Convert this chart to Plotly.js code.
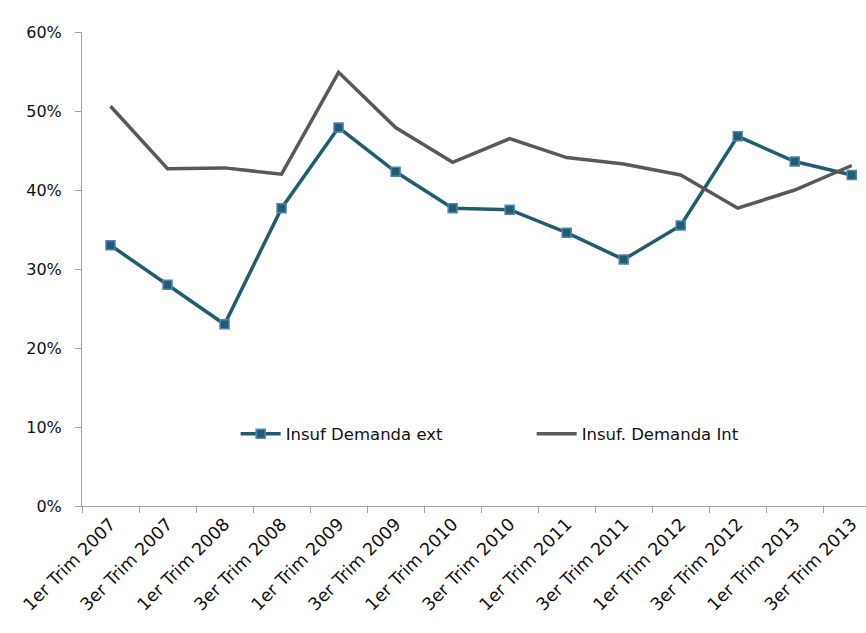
<!DOCTYPE html>
<html><head><meta charset="utf-8">
<script src="https://cdn.plot.ly/plotly-3.0.1.min.js"></script>
<style>html,body{margin:0;padding:0;background:#fff}#c{width:866px;height:633px}</style>
</head><body><div id="c"></div>
<script>
const categories = ["1er Trim 2007","3er Trim 2007","1er Trim 2008","3er Trim 2008","1er Trim 2009","3er Trim 2009","1er Trim 2010","3er Trim 2010","1er Trim 2011","3er Trim 2011","1er Trim 2012","3er Trim 2012","1er Trim 2013","3er Trim 2013"];
const demandaExt = [0.330,0.280,0.230,0.377,0.479,0.423,0.377,0.375,0.346,0.312,0.355,0.468,0.436,0.419];
const demandaInt = [0.506,0.427,0.428,0.420,0.549,0.479,0.435,0.465,0.441,0.433,0.419,0.377,0.400,0.431];
const yTicks = [0,0.1,0.2,0.3,0.4,0.5,0.6];
const yTickLabels = ["0%","10%","20%","30%","40%","50%","60%"];

const font = "DejaVu Sans, sans-serif";
const traces = [
 {x: categories, y: demandaExt, name: "Insuf Demanda ext", type: "scatter", mode: "lines+markers",
  line: {color: "#215e6b", width: 3.5},
  marker: {symbol: "square", size: 9, color: "#215e6b", line: {color: "#4f81bd", width: 1.5}},
  cliponaxis: false},
 {x: categories, y: demandaInt, name: "Insuf. Demanda Int", type: "scatter", mode: "lines",
  line: {color: "#595959", width: 3.5}, cliponaxis: false}
];
const layout = {
 width: 866, height: 633,
 margin: {l: 82, r: 0, t: 32, b: 127},
 paper_bgcolor: "#fff", plot_bgcolor: "#fff",
 font: {family: font, size: 16, color: "#222"},
 showlegend: true,
 legend: {orientation: "h", x: 0.196, y: 0.152, xanchor: "left", yanchor: "middle",
   font: {size: 16.5, color: "#111"}, bgcolor: "rgba(0,0,0,0)", itemwidth: 40, entrywidth: 241},
 xaxis: {type: "category", range: [-0.5, 13.25], tickangle: -45, ticks: "outside", ticklen: 6,
   tickson: "boundaries", tickcolor: "#a0a0a0", showline: true, linecolor: "#a0a0a0", linewidth: 1,
   showgrid: false, zeroline: false, automargin: false, tickfont: {size: 17.5, color: "#111"}},
 yaxis: {range: [0, 0.6], tickvals: yTicks, ticktext: yTickLabels, ticks: "outside", ticklen: 6,
   ticklabelstandoff: 10, automargin: false,
   tickcolor: "#a0a0a0", showline: true, linecolor: "#a0a0a0", linewidth: 1, showgrid: false,
   zeroline: false, tickfont: {size: 16, color: "#111"}}
};
Plotly.newPlot("c", traces, layout, {displayModeBar: false, staticPlot: true});
</script></body></html>
